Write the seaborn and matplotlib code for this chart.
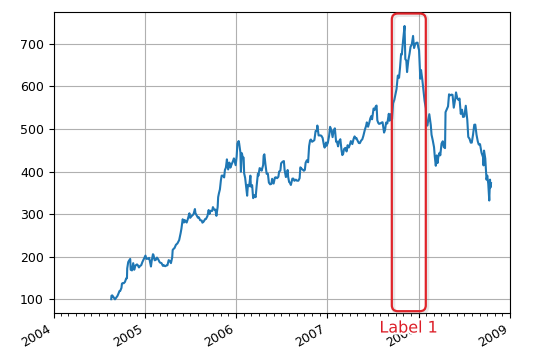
import matplotlib
matplotlib.use("Agg")
import matplotlib.pyplot as plt
import matplotlib.dates as mdates
import matplotlib.patheffects as pe
import matplotlib.transforms as mtransforms
from matplotlib.patches import FancyBboxPatch
import numpy as np
import pandas as pd
import seaborn as sns

dates_2004 = ["2004-08-19","2004-08-20","2004-08-23","2004-08-25","2004-08-27","2004-08-31","2004-09-03","2004-09-08","2004-09-13","2004-09-16","2004-09-21","2004-09-24","2004-09-29","2004-10-01","2004-10-05","2004-10-08","2004-10-13","2004-10-18","2004-10-21","2004-10-22","2004-10-26","2004-10-29","2004-11-03","2004-11-05","2004-11-10","2004-11-15","2004-11-19","2004-11-24","2004-11-30","2004-12-03","2004-12-08","2004-12-13","2004-12-17","2004-12-22","2004-12-30"]
price_2004 = [100.3,108.3,109.4,106.0,106.2,102.4,100.0,104.0,108.0,112.0,119.4,119.8,126.9,137.0,138.4,137.7,140.9,149.2,149.4,172.4,187.4,190.6,194.9,169.4,167.9,184.9,169.4,179.4,182.0,180.4,174.9,178.7,180.0,187.9,197.6]

dates_2005 = ["2005-01-03","2005-01-07","2005-01-12","2005-01-18","2005-01-21","2005-01-25","2005-01-28","2005-02-02","2005-02-04","2005-02-09","2005-02-14","2005-02-18","2005-02-23","2005-02-28","2005-03-03","2005-03-08","2005-03-14","2005-03-18","2005-03-23","2005-03-29","2005-04-01","2005-04-06","2005-04-11","2005-04-15","2005-04-20","2005-04-22","2005-04-26","2005-04-29","2005-05-05","2005-05-11","2005-05-18","2005-05-24","2005-05-27","2005-06-01","2005-06-06","2005-06-09","2005-06-13","2005-06-17","2005-06-22","2005-06-28","2005-07-01","2005-07-08","2005-07-13","2005-07-15","2005-07-20","2005-07-22","2005-07-27","2005-08-01","2005-08-05","2005-08-10","2005-08-16","2005-08-19","2005-08-24","2005-08-30","2005-09-02","2005-09-08","2005-09-13","2005-09-16","2005-09-21","2005-09-27","2005-09-30","2005-10-05","2005-10-10","2005-10-14","2005-10-19","2005-10-21","2005-10-24","2005-10-28","2005-11-01","2005-11-04","2005-11-09","2005-11-14","2005-11-17","2005-11-21","2005-11-25","2005-11-30","2005-12-05","2005-12-09","2005-12-14","2005-12-19","2005-12-23","2005-12-30"]
price_2005 = [202.7,195.0,195.4,197.3,188.3,177.1,190.3,205.9,204.4,191.6,193.0,198.0,194.0,188.0,186.0,185.2,178.6,180.0,177.8,179.6,180.0,192.0,189.6,185.0,198.1,215.8,218.8,220.0,228.0,231.3,239.2,256.0,266.0,288.0,280.3,286.3,282.8,280.3,289.3,302.0,291.3,296.2,298.9,301.2,312.0,302.4,296.9,291.6,292.4,285.7,285.1,280.0,282.6,288.5,288.5,295.4,309.7,300.2,307.9,307.5,316.5,310.7,310.7,296.1,317.0,339.9,348.7,358.2,379.7,390.4,390.4,386.2,403.5,409.4,428.6,404.9,421.0,409.2,417.0,424.0,430.9,414.9]

dates_2006 = ["2006-01-03","2006-01-06","2006-01-11","2006-01-13","2006-01-18","2006-01-20","2006-01-24","2006-01-27","2006-01-31","2006-02-02","2006-02-06","2006-02-09","2006-02-14","2006-02-17","2006-02-22","2006-02-27","2006-03-01","2006-03-06","2006-03-10","2006-03-15","2006-03-20","2006-03-24","2006-03-29","2006-03-31","2006-04-05","2006-04-10","2006-04-13","2006-04-19","2006-04-21","2006-04-24","2006-04-28","2006-05-03","2006-05-08","2006-05-12","2006-05-17","2006-05-22","2006-05-25","2006-05-31","2006-06-05","2006-06-09","2006-06-14","2006-06-19","2006-06-22","2006-06-27","2006-06-30","2006-07-06","2006-07-11","2006-07-14","2006-07-19","2006-07-24","2006-07-26","2006-07-28","2006-08-01","2006-08-04","2006-08-08","2006-08-14","2006-08-18","2006-08-22","2006-08-28","2006-09-01","2006-09-07","2006-09-12","2006-09-15","2006-09-20","2006-09-25","2006-09-29","2006-10-03","2006-10-06","2006-10-11","2006-10-16","2006-10-20","2006-10-24","2006-10-27","2006-11-01","2006-11-06","2006-11-10","2006-11-15","2006-11-20","2006-11-22","2006-11-27","2006-11-30","2006-12-04","2006-12-08","2006-12-13","2006-12-18","2006-12-21","2006-12-27","2006-12-29"]
price_2006 = [435.2,465.7,471.6,466.3,444.9,399.5,443.0,433.5,432.7,396.0,385.1,369.1,343.3,368.8,365.5,390.4,364.8,368.1,337.5,344.5,339.8,365.8,395.0,390.0,408.0,406.2,402.1,415.0,437.1,440.5,417.9,394.8,394.8,374.1,370.0,371.0,383.0,371.8,385.6,386.6,384.4,387.7,400.0,402.3,419.3,423.2,424.6,403.5,387.1,390.9,403.6,388.1,375.3,373.9,368.5,383.4,383.4,378.3,381.0,378.6,378.5,384.4,409.9,406.6,404.0,401.9,404.0,420.5,426.5,421.8,459.7,473.3,475.2,469.9,471.8,473.6,495.1,495.1,508.0,484.8,484.8,484.9,484.1,479.0,462.8,456.2,468.3,460.5]

dates_2007 = ["2007-01-03","2007-01-08","2007-01-12","2007-01-17","2007-01-22","2007-01-26","2007-01-31","2007-02-05","2007-02-08","2007-02-13","2007-02-16","2007-02-22","2007-02-27","2007-03-02","2007-03-05","2007-03-09","2007-03-14","2007-03-19","2007-03-23","2007-03-28","2007-04-02","2007-04-05","2007-04-11","2007-04-16","2007-04-20","2007-04-24","2007-04-27","2007-05-02","2007-05-07","2007-05-11","2007-05-16","2007-05-21","2007-05-25","2007-05-31","2007-06-05","2007-06-08","2007-06-13","2007-06-18","2007-06-22","2007-06-26","2007-06-29","2007-07-05","2007-07-10","2007-07-13","2007-07-17","2007-07-20","2007-07-24","2007-07-27","2007-08-01","2007-08-06","2007-08-10","2007-08-16","2007-08-20","2007-08-24","2007-08-29","2007-09-04","2007-09-07","2007-09-12","2007-09-17","2007-09-21","2007-09-26","2007-10-01","2007-10-05","2007-10-10","2007-10-15","2007-10-19","2007-10-23","2007-10-26","2007-10-31","2007-11-06","2007-11-09","2007-11-13","2007-11-16","2007-11-21","2007-11-26","2007-11-30","2007-12-05","2007-12-10","2007-12-14","2007-12-19","2007-12-24","2007-12-28","2007-12-31"]
price_2007 = [467.6,483.6,505.0,497.3,480.8,495.8,501.5,470.0,471.0,459.1,469.9,475.9,448.8,438.7,441.0,453.0,455.6,447.2,461.8,456.5,465.0,471.5,464.5,476.6,482.5,477.5,479.0,472.5,467.0,466.7,472.6,475.9,483.5,497.9,507.1,515.5,505.2,515.2,525.0,530.3,522.7,548.0,545.0,552.2,555.0,520.1,514.0,511.9,512.9,515.0,515.8,491.5,497.9,515.0,512.9,535.6,519.4,535.0,523.4,560.1,568.2,582.6,594.1,625.4,620.1,644.7,675.8,674.6,707.0,741.8,664.0,660.5,633.6,660.5,676.7,693.0,698.5,718.4,690.0,700.0,702.5,702.5,691.5]

dates_2008 = ["2008-01-03","2008-01-08","2008-01-11","2008-01-16","2008-01-22","2008-01-25","2008-01-30","2008-02-01","2008-02-05","2008-02-08","2008-02-13","2008-02-19","2008-02-22","2008-02-27","2008-03-03","2008-03-06","2008-03-10","2008-03-14","2008-03-17","2008-03-20","2008-03-25","2008-03-28","2008-04-02","2008-04-07","2008-04-11","2008-04-16","2008-04-18","2008-04-23","2008-04-28","2008-05-02","2008-05-07","2008-05-12","2008-05-16","2008-05-21","2008-05-27","2008-05-30","2008-06-04","2008-06-09","2008-06-13","2008-06-18","2008-06-23","2008-06-27","2008-07-02","2008-07-08","2008-07-14","2008-07-18","2008-07-23","2008-07-28","2008-08-01","2008-08-06","2008-08-11","2008-08-15","2008-08-20","2008-08-25","2008-08-29","2008-09-03","2008-09-09","2008-09-15","2008-09-17","2008-09-19","2008-09-24","2008-09-29","2008-10-02","2008-10-06","2008-10-09","2008-10-10","2008-10-13","2008-10-15","2008-10-17"]
price_2008 = [685.3,618.0,638.3,616.0,584.4,566.4,548.3,515.9,507.8,516.7,534.6,509.0,486.4,472.9,457.0,435.0,413.6,437.9,419.9,433.6,444.1,438.1,465.7,471.1,457.5,455.0,539.4,546.5,553.0,581.3,579.0,580.7,580.1,550.0,571.1,585.8,572.2,568.0,571.5,535.3,545.2,528.1,529.2,554.5,521.6,481.3,477.1,467.9,467.9,486.3,509.9,510.2,486.4,470.9,463.3,464.4,444.3,433.9,414.5,449.2,430.8,381.0,390.5,371.2,339.0,332.0,381.0,362.7,372.5]

xlim_dates = ["2004-01-01", "2009-01-01"]
box_dates = ["2007-09-16", "2008-01-30"]
label_text = "Label 1"

dates = pd.to_datetime(dates_2004 + dates_2005 + dates_2006 + dates_2007 + dates_2008)
prices = price_2004 + price_2005 + price_2006 + price_2007 + price_2008
df = pd.DataFrame({"date": dates, "adj_close": prices})

fig = plt.figure(figsize=(5.40, 3.61), dpi=100)
ax = fig.add_axes([53.5/540, 1-313/361, (510-53.5)/540, (313-12.3)/361])

sns.lineplot(data=df, x="date", y="adj_close", ax=ax, color="#1f77b4", linewidth=1.5)
ax.set_xlabel("")
ax.set_ylabel("")
ax.xaxis.set_major_locator(mdates.YearLocator())
ax.xaxis.set_minor_locator(mdates.MonthLocator())
ax.xaxis.set_major_formatter(mdates.DateFormatter("%Y"))
ax.set_xlim(pd.to_datetime(xlim_dates[0]), pd.to_datetime(xlim_dates[1]))
ax.set_ylim(67.9, 773.9)
ax.grid(True, which="major", color="#b0b0b0", linewidth=0.8)
for s in ax.spines.values():
    s.set_color("black")
    s.set_linewidth(0.8)
ax.tick_params(labelsize=9)
for lbl in ax.get_xticklabels():
    lbl.set_rotation(30)
    lbl.set_ha("right")

fig.canvas.draw()
x0 = ax.transData.transform((mdates.date2num(pd.to_datetime(box_dates[0])), 0))[0]
x1 = ax.transData.transform((mdates.date2num(pd.to_datetime(box_dates[1])), 0))[0]
y0 = ax.transAxes.transform((0, 0.006))[1]
y1 = ax.transAxes.transform((0, 0.996))[1]
box = FancyBboxPatch((x0, y0), x1 - x0, y1 - y0,
                     boxstyle="round,pad=0,rounding_size=6",
                     transform=mtransforms.IdentityTransform(),
                     facecolor="none", edgecolor="#e0242a", linewidth=1.6,
                     clip_on=False, zorder=5)
box.set_path_effects([pe.SimpleLineShadow(offset=(1.0, -1.0), shadow_color="gray", alpha=0.18, linewidth=3),
                      pe.Normal()])
fig.add_artist(box)

xc = 0.5 * (x0 + x1)
yt = ax.transAxes.transform((0, -0.05))[1]
fig.text(xc / fig.bbox.width, yt / fig.bbox.height, label_text, color="#dc1e28",
         fontsize=11.5, ha="center", va="center", zorder=6,
         path_effects=[pe.withSimplePatchShadow(offset=(1, -1), shadow_rgbFace="gray", alpha=0.25),
                       pe.withStroke(linewidth=3, foreground="white")])

fig.savefig("out.png", dpi=100)
